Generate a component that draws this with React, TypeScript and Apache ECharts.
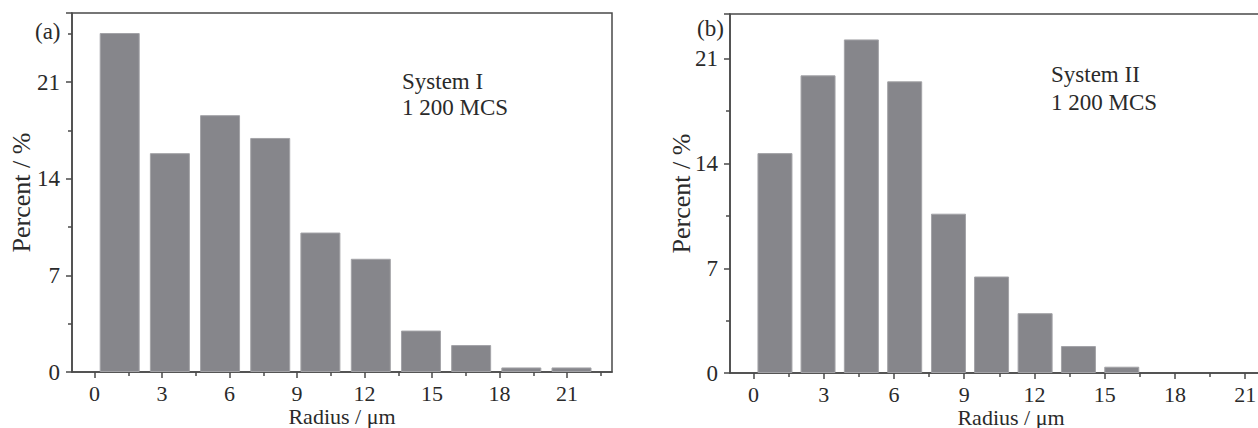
import React, { useEffect, useRef } from "react";
import * as echarts from "echarts";

// Panel (a): System I
const radiusA = [1.12, 3.35, 5.58, 7.81, 10.04, 12.28, 14.51, 16.74, 18.97, 21.2];
const percentA = [24.55, 15.85, 18.6, 16.95, 10.1, 8.2, 3.0, 1.95, 0.33, 0.33];
// Panel (b): System II
const radiusB = [0.92, 2.76, 4.61, 6.46, 8.33, 10.17, 12.03, 13.88, 15.73];
const percentB = [14.7, 19.9, 22.3, 19.5, 10.65, 6.45, 4.0, 1.8, 0.42];

const xMajorTicks = [0, 3, 6, 9, 12, 15, 18, 21];
const xMinorTicks = [1.5, 4.5, 7.5, 10.5, 13.5, 16.5, 19.5, 22.5];

const FONT = "'Liberation Serif', 'Times New Roman', serif";
const AXIS_COLOR = "#4a4a4a";
const TEXT_COLOR = "#2a2a2a";
const BAR_COLOR = "#86868b";

function mainX(gridIndex: number) {
  return {
    type: "value",
    gridIndex,
    min: -1,
    max: 23,
    position: "bottom",
    name: "Radius / \u03bcm",
    nameLocation: "middle",
    nameGap: 33,
    nameMoveOverlap: false,
    nameTextStyle: { fontFamily: FONT, fontSize: 22, color: TEXT_COLOR, lineHeight: 22 },
    axisLine: { show: true, onZero: false, lineStyle: { color: AXIS_COLOR, width: 1.5 } },
    axisTick: { show: true, length: 6, customValues: xMajorTicks, lineStyle: { color: AXIS_COLOR, width: 1.5 } },
    axisLabel: {
      show: true,
      customValues: xMajorTicks,
      margin: 11,
      fontFamily: FONT,
      fontSize: 22,
      lineHeight: 21,
      color: TEXT_COLOR,
    },
    splitLine: { show: false },
  };
}

function minorX(gridIndex: number) {
  return {
    type: "value",
    gridIndex,
    min: -1,
    max: 23,
    position: "bottom",
    axisLine: { show: false, onZero: false },
    axisTick: { show: true, length: 4, customValues: xMinorTicks, lineStyle: { color: AXIS_COLOR, width: 1.5 } },
    axisLabel: { show: false },
    splitLine: { show: false },
  };
}

function yAx(gridIndex: number, max: number, gap: number) {
  return {
    type: "value",
    gridIndex,
    min: 0,
    max,
    interval: 7,
    name: "Percent / %",
    nameLocation: "middle",
    nameGap: gap,
    nameMoveOverlap: false,
    nameTextStyle: { fontFamily: FONT, fontSize: 26, color: TEXT_COLOR },
    axisLine: { show: true, onZero: false, lineStyle: { color: AXIS_COLOR, width: 1.5 } },
    axisTick: { show: true, length: 6, lineStyle: { color: AXIS_COLOR, width: 1.5 } },
    minorTick: { show: true, splitNumber: 2, length: 4, lineStyle: { color: AXIS_COLOR, width: 1.5 } },
    axisLabel: {
      margin: 12,
      fontFamily: FONT,
      fontSize: 23,
      color: TEXT_COLOR,
      showMaxLabel: false,
      formatter: (v: number) => (v % 7 === 0 ? String(v) : ""),
    },
    splitLine: { show: false },
  };
}

export default function App() {
  const ref = useRef<HTMLDivElement>(null);

  useEffect(() => {
    if (!ref.current) return;
    const chart = echarts.init(ref.current, undefined, { renderer: "svg" });
    const textStyle = { fontFamily: FONT, fontSize: 23, fill: TEXT_COLOR };
    chart.setOption({
      animation: false,
      backgroundColor: "#ffffff",
      grid: [
        { left: 72, top: 13, right: 646, bottom: 56, outerBoundsMode: "none", containLabel: false, show: true, borderColor: AXIS_COLOR, borderWidth: 1.5, backgroundColor: "transparent" },
        { left: 730, top: 14, right: -34, bottom: 55, outerBoundsMode: "none", containLabel: false, show: true, borderColor: AXIS_COLOR, borderWidth: 1.5, backgroundColor: "transparent" },
      ],
      xAxis: [mainX(0), minorX(0), mainX(1), minorX(1)],
      yAxis: [yAx(0, 26, 38), yAx(1, 24, 36)],
      series: [
        {
          type: "bar",
          xAxisIndex: 0,
          yAxisIndex: 0,
          barWidth: 40,
          data: radiusA.map((r, i) => [r, percentA[i]]),
          itemStyle: { color: BAR_COLOR, borderColor: "#a3a3a7", borderWidth: 1 },
        },
        {
          type: "bar",
          xAxisIndex: 2,
          yAxisIndex: 1,
          barWidth: 35,
          data: radiusB.map((r, i) => [r, percentB[i]]),
          itemStyle: { color: BAR_COLOR, borderColor: "#a3a3a7", borderWidth: 1 },
        },
      ],
      graphic: [
        { type: "text", left: 35, top: 20, style: { ...textStyle, text: "(a)" } },
        { type: "text", left: 697, top: 17, style: { ...textStyle, text: "(b)" } },
        { type: "text", left: 402, top: 68, style: { ...textStyle, text: "System I\n1 200 MCS", lineHeight: 26 } },
        { type: "text", left: 1051, top: 60, style: { ...textStyle, text: "System II\n1 200 MCS", lineHeight: 28 } },
      ],
    });
    return () => chart.dispose();
  }, []);

  return (
    <div
      ref={ref}
      style={{ position: "fixed", left: 0, top: 0, width: 1258, height: 428, background: "#fff" }}
    />
  );
}
